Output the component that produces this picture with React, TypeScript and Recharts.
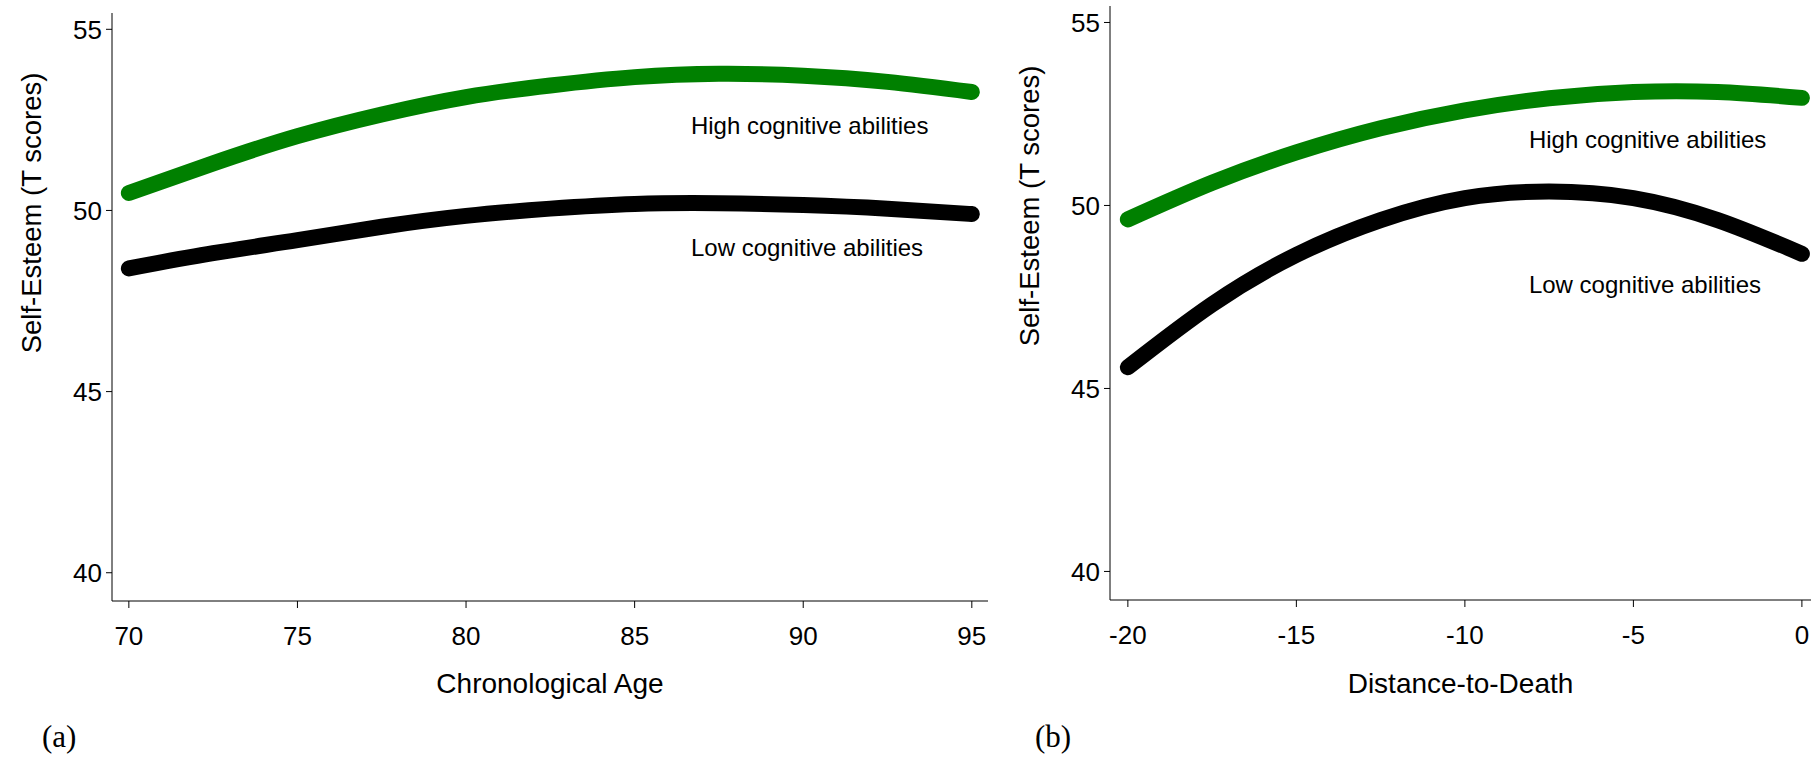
import { LineChart, Line, XAxis, YAxis, ReferenceDot } from "recharts";

// panel (a) - chronological age
const ageX = [70, 72.5, 75, 77.5, 80, 82.5, 85, 87.5, 90, 92.5, 95];
const ageHigh = [50.48, 51.3, 52.05, 52.65, 53.13, 53.45, 53.68, 53.77, 53.72, 53.55, 53.27];
const ageLow = [48.4, 48.82, 49.18, 49.55, 49.85, 50.05, 50.18, 50.2, 50.15, 50.05, 49.9];
const ageTicks = [70, 75, 80, 85, 90, 95];

// panel (b) - distance to death
const dtdX = [-20, -17.5, -15, -12.5, -10, -7.5, -5, -2.5, 0];
const dtdHigh = [49.62, 50.62, 51.45, 52.11, 52.6, 52.93, 53.1, 53.1, 52.94];
const dtdLow = [45.58, 47.3, 48.65, 49.6, 50.2, 50.38, 50.2, 49.6, 48.68];
const dtdTicks = [-20, -15, -10, -5, 0];

const esteemTicks = [40, 45, 50, 55];

const HIGH_COLOR = "#008000";
const LOW_COLOR = "#000000";

const ageData = ageX.map((x, i) => ({ x, high: ageHigh[i], low: ageLow[i] }));
const dtdData = dtdX.map((x, i) => ({ x, high: dtdHigh[i], low: dtdLow[i] }));

const YTitle = ({ cx, cy }: { cx: number; cy: number }) => (
  <text
    x={cx}
    y={cy}
    transform={`rotate(-90 ${cx} ${cy})`}
    textAnchor="middle"
    dominantBaseline="central"
    fontSize={27.5}
    fill="#000"
  >
    Self-Esteem (T scores)
  </text>
);

const noteLabel = (text: string) => ({
  value: text,
  position: "right" as const,
  offset: 0,
  fontSize: 24,
  fill: "#000",
});

const axisLine = { stroke: "#000", strokeWidth: 1 };
const letterStyle = {
  position: "absolute" as const,
  top: 721,
  fontSize: 31,
  lineHeight: "31px",
  fontFamily: '"Liberation Serif", "Times New Roman", serif',
};

const App = () => {
  return (
    <div
      style={{
        position: "absolute",
        left: 0,
        top: 0,
        width: 1811,
        height: 758,
        background: "#fff",
        fontFamily: '"Liberation Sans", Arial, sans-serif',
      }}
    >
      <div style={{ position: "absolute", left: 0, top: 0 }}>
        <LineChart width={1000} height={758} data={ageData} margin={{ top: 13, right: 12, bottom: 0, left: 0 }}>
          <XAxis
            dataKey="x"
            type="number"
            domain={[69.5, 95.48]}
            ticks={ageTicks}
            height={157}
            tickSize={7}
            tickMargin={19}
            tick={{ fontSize: 26, fill: "#000" }}
            axisLine={axisLine}
            tickLine={axisLine}
            label={{ value: "Chronological Age", position: "insideBottom", offset: 65, fontSize: 28, fill: "#000" }}
          />
          <YAxis
            type="number"
            domain={[39.22, 55.45]}
            ticks={esteemTicks}
            width={112}
            tickSize={6}
            tickMargin={4}
            tick={{ fontSize: 26, fill: "#000" }}
            axisLine={axisLine}
            tickLine={axisLine}
            label={<YTitle cx={31} cy={213} />}
          />
          <Line
            dataKey="high"
            type="natural"
            stroke={HIGH_COLOR}
            strokeWidth={16}
            strokeLinecap="round"
            dot={false}
            activeDot={false}
            isAnimationActive={false}
          />
          <Line
            dataKey="low"
            type="natural"
            stroke={LOW_COLOR}
            strokeWidth={16}
            strokeLinecap="round"
            dot={false}
            activeDot={false}
            isAnimationActive={false}
          />
          <ReferenceDot x={86.67} y={52.34} r={0} fill="none" stroke="none" label={noteLabel("High cognitive abilities")} />
          <ReferenceDot x={86.67} y={48.99} r={0} fill="none" stroke="none" label={noteLabel("Low cognitive abilities")} />
        </LineChart>
      </div>

      <div style={{ position: "absolute", left: 1000, top: 0 }}>
        <LineChart width={811} height={758} data={dtdData} margin={{ top: 6, right: 0, bottom: 0, left: 0 }}>
          <XAxis
            dataKey="x"
            type="number"
            domain={[-20.53, 0.27]}
            ticks={dtdTicks}
            height={158}
            tickSize={7}
            tickMargin={19}
            tick={{ fontSize: 26, fill: "#000" }}
            axisLine={axisLine}
            tickLine={axisLine}
            label={{ value: "Distance-to-Death", position: "insideBottom", offset: 65, fontSize: 28, fill: "#000" }}
          />
          <YAxis
            type="number"
            domain={[39.22, 55.45]}
            ticks={esteemTicks}
            width={110}
            tickSize={6}
            tickMargin={4}
            tick={{ fontSize: 26, fill: "#000" }}
            axisLine={axisLine}
            tickLine={axisLine}
            label={<YTitle cx={29} cy={206} />}
          />
          <Line
            dataKey="high"
            type="natural"
            stroke={HIGH_COLOR}
            strokeWidth={16}
            strokeLinecap="round"
            dot={false}
            activeDot={false}
            isAnimationActive={false}
          />
          <Line
            dataKey="low"
            type="natural"
            stroke={LOW_COLOR}
            strokeWidth={16}
            strokeLinecap="round"
            dot={false}
            activeDot={false}
            isAnimationActive={false}
          />
          <ReferenceDot x={-8.1} y={51.79} r={0} fill="none" stroke="none" label={noteLabel("High cognitive abilities")} />
          <ReferenceDot x={-8.1} y={47.83} r={0} fill="none" stroke="none" label={noteLabel("Low cognitive abilities")} />
        </LineChart>
      </div>

      {/* panel letters */}
      <div style={{ ...letterStyle, left: 42 }}>(a)</div>
      <div style={{ ...letterStyle, left: 1035 }}>(b)</div>
    </div>
  );
};

export default App;
